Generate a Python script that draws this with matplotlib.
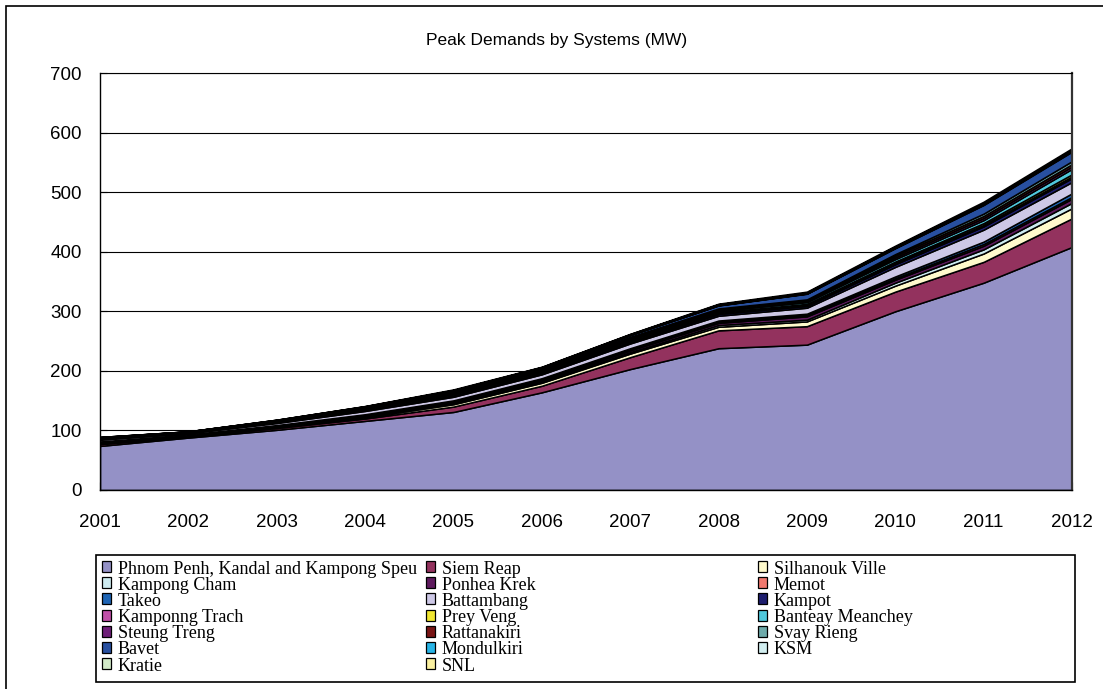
import matplotlib
matplotlib.use("Agg")
import matplotlib.pyplot as plt
from matplotlib.patches import Rectangle

years = list(range(2001, 2013))

systems = [
    "Phnom Penh, Kandal and Kampong Speu", "Siem Reap", "Silhanouk Ville",
    "Kampong Cham", "Ponhea Krek", "Memot",
    "Takeo", "Battambang", "Kampot",
    "Kamponng Trach", "Prey Veng", "Banteay Meanchey",
    "Steung Treng", "Rattanakiri", "Svay Rieng",
    "Bavet", "Mondulkiri", "KSM",
    "Kratie", "SNL",
]

phnom_penh = [74, 88, 101, 116, 131, 164, 203, 238, 244, 300, 348, 408]
siem_reap = [3, 2, 3, 4, 9, 11, 20, 30, 31, 33, 35, 48]
silhanouk_ville = [1, 1, 1.5, 2, 4, 5, 6, 6, 8, 10, 14, 17]
kampong_cham = [1, 1, 1, 1.5, 2, 2, 2.5, 3, 3, 5, 7, 9]
ponhea_krek = [1, 0.5, 1, 1.5, 2, 2.5, 3, 3.5, 5.5, 5, 6, 7]
memot = [0.5, 0.3, 0.5, 0.7, 1, 1.2, 1.5, 2, 2, 2.5, 3, 3]
takeo = [1, 0.5, 1, 1.5, 1.5, 2, 2, 2, 2.5, 3, 4, 6]
battambang = [3, 2.5, 3.5, 5.5, 6, 6.5, 8, 8, 10, 16, 20, 19]
kampot = [1, 0.5, 1, 1.5, 2, 2, 2.5, 3, 3, 4.5, 5.5, 6.5]
kamponng_trach = [0.3, 0.2, 0.5, 0.6, 0.8, 1, 1.2, 1.5, 1.5, 2, 2.5, 3]
prey_veng = [0.5, 0.3, 0.5, 0.8, 1, 1.2, 1.5, 1.5, 2, 2.5, 3, 3.5]
banteay_meanchey = [0.5, 0.3, 1, 1.5, 2, 2, 2.5, 2.5, 3, 4, 5, 9]
steung_treng = [0.3, 0.2, 0.3, 0.4, 0.5, 0.6, 0.7, 0.8, 1, 3, 3.5, 4]
rattanakiri = [0.5, 0.3, 0.5, 0.6, 0.8, 1, 1.2, 1.5, 1.5, 3, 3.5, 4]
svay_rieng = [0.5, 0.3, 0.5, 0.8, 1.2, 1.2, 1.5, 1.5, 2, 2.5, 4, 5]
bavet = [0.3, 0.3, 0.5, 1, 2, 2, 3, 5, 9.5, 10, 14.5, 16]
mondulkiri = [0.2, 0.1, 0.2, 0.2, 0.3, 0.3, 0.4, 0.5, 0.5, 0.7, 1, 1.2]
ksm = [0, 0, 0, 0, 0, 0, 0, 0, 0, 0.5, 1, 1]
kratie = [0.4, 0.2, 0.5, 0.6, 0.8, 1, 1.2, 1.5, 1.5, 1.5, 1.5, 1.5]
snl = [0, 0, 0, 0.3, 1, 0.5, 0.5, 1, 1.5, 1.5, 2, 2]

series = [
    phnom_penh, siem_reap, silhanouk_ville, kampong_cham, ponhea_krek, memot,
    takeo, battambang, kampot, kamponng_trach, prey_veng, banteay_meanchey,
    steung_treng, rattanakiri, svay_rieng, bavet, mondulkiri, ksm, kratie, snl,
]

colors = [
    "#9491c6", "#93325e", "#fffacc", "#cdebf0", "#5e1a5e", "#f0786e",
    "#1e64b4", "#cdc8e6", "#1e1e6e", "#c050a8", "#f0e632", "#50c8dc",
    "#6e1e78", "#781414", "#6eaaaa", "#2850a0", "#28b4e6", "#d2eef0",
    "#d2eac8", "#faf0a0",
]

W, H = 1103, 689
fig = plt.figure(figsize=(W / 100, H / 100), dpi=100)


def fx(px):
    return px / W


def fy(py):
    return 1 - py / H


# outer frame of the chart area
fig.add_artist(Rectangle((fx(6), -0.05), 1.2, fy(6) + 0.05, transform=fig.transFigure,
                         fill=False, edgecolor="black", linewidth=1.2))

ax = fig.add_axes([fx(100), fy(490), fx(1072) - fx(100), fy(73) - fy(490)])
ax.stackplot(years, *series, colors=colors, edgecolor="black", linewidth=1.1)

ax.set_xlim(2001, 2012)
ax.set_ylim(0, 700)
ax.set_xticks(years)
ax.set_yticks(range(0, 701, 100))
ax.set_axisbelow(True)
ax.grid(axis="y", color="black", linewidth=0.8)
ax.tick_params(axis="y", direction="in", length=5, pad=13, labelsize=13.5)
ax.tick_params(axis="x", direction="in", length=6, pad=17, labelsize=13.5)
for lbl in ax.get_xticklabels() + ax.get_yticklabels():
    lbl.set_family("Liberation Sans")
for side in ["left", "bottom"]:
    ax.spines[side].set_linewidth(1.0)
ax.spines["top"].set_linewidth(0.8)
ax.spines["right"].set_linewidth(1.6)
ax.spines["right"].set_color("#333333")

fig.text(fx(557), fy(40), "Peak Demands by Systems (MW)", ha="center", va="center",
         fontsize=12.5, family="Liberation Sans")

# legend box, filled row by row in three columns
fig.add_artist(Rectangle((fx(96), fy(682)), fx(1075) - fx(96), fy(555) - fy(682),
                         transform=fig.transFigure, fill=False, edgecolor="black", linewidth=1.2))
col_x = [102, 426, 758]
row_y0, row_dy = 567, 16.2
for i, (name, c) in enumerate(zip(systems, colors)):
    row, col = divmod(i, 3)
    x0 = col_x[col]
    yc = row_y0 + row * row_dy
    fig.add_artist(Rectangle((fx(x0), fy(yc + 5)), fx(9), fy(0) - fy(11),
                             transform=fig.transFigure, facecolor=c,
                             edgecolor="black", linewidth=0.9))
    fig.text(fx(x0 + 16), fy(yc), name, ha="left", va="center_baseline",
             fontsize=13, family="Liberation Serif")

fig.savefig("out.png", dpi=100)
